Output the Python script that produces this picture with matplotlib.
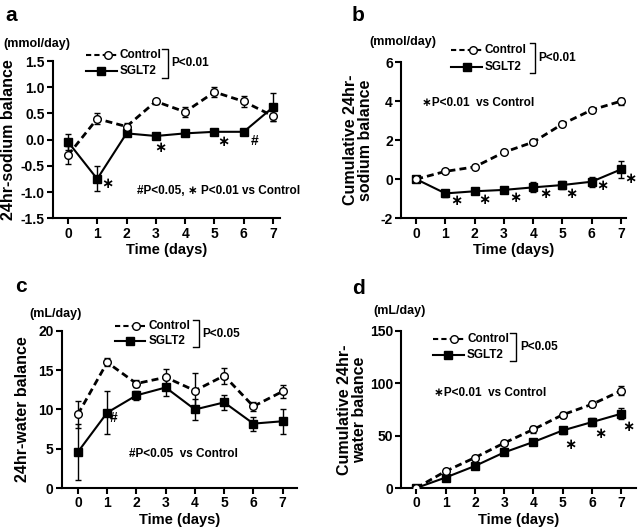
import numpy as np
import matplotlib.pyplot as plt
from matplotlib.lines import Line2D

plt.rcParams['font.family'] = ['Liberation Sans', 'DejaVu Sans']
plt.rcParams['font.weight'] = 'bold'

days = np.arange(8)

# a: 24hr sodium balance (mmol/day)
na_ctrl = [-0.30, 0.40, 0.25, 0.73, 0.53, 0.91, 0.73, 0.45]
na_ctrl_err = [0.17, 0.10, 0.07, 0.05, 0.09, 0.10, 0.10, 0.10]
na_sglt = [-0.04, -0.75, 0.12, 0.07, 0.12, 0.15, 0.15, 0.62]
na_sglt_err = [0.15, 0.24, 0.05, 0.03, 0.03, 0.03, 0.05, 0.27]

# b: cumulative sodium balance
cna_ctrl = [0.0, 0.40, 0.63, 1.38, 1.90, 2.83, 3.55, 4.00]
cna_ctrl_err = [0.05, 0.10, 0.10, 0.10, 0.12, 0.10, 0.12, 0.18]
cna_sglt = [0.0, -0.73, -0.62, -0.55, -0.42, -0.30, -0.13, 0.50]
cna_sglt_err = [0.05, 0.20, 0.15, 0.15, 0.25, 0.20, 0.25, 0.45]

# c: 24hr water balance (mL/day)
w_ctrl = [9.4, 16.0, 13.3, 14.1, 12.4, 14.3, 10.4, 12.3]
w_ctrl_err = [1.7, 0.5, 0.4, 1.0, 2.3, 1.0, 0.6, 0.8]
w_sglt = [4.6, 9.6, 11.8, 12.8, 10.0, 10.9, 8.2, 8.5]
w_sglt_err = [3.6, 2.7, 0.6, 1.1, 1.3, 1.0, 0.9, 1.6]

# d: cumulative water balance
cw_ctrl = [0, 16, 29, 43, 56, 70, 80, 93]
cw_ctrl_err = [1, 2, 2, 2, 3, 3, 3, 4]
cw_sglt = [0, 10, 21, 34, 44, 55, 63, 71]
cw_sglt_err = [1, 2, 2, 2, 2, 3, 4, 5]

STAR = '\u2217'

fig = plt.figure(figsize=(6.38, 5.27), dpi=100)


def panel(rect, ctrl, ctrl_err, sglt, sglt_err, ylim, yticks, yfmt, ylabel,
          unit, letter, pval, leg, xlim, marks, note):
    ax = fig.add_axes(rect)
    ax.errorbar(days, sglt, yerr=sglt_err, color='black', lw=1.5, marker='s',
                ms=6, mfc='black', capsize=2.5, elinewidth=1, capthick=1, zorder=3)
    ax.errorbar(days, ctrl, yerr=ctrl_err, color='black', lw=2, ls=(0, (2.5, 1.5)),
                marker='o', ms=5.5, mfc='white', mec='black', mew=1,
                capsize=2.5, elinewidth=1, capthick=1, zorder=4)
    ax.set_xlim(*xlim)
    ax.set_ylim(*ylim)
    ax.set_xticks(days)
    ax.set_yticks(yticks)
    ax.set_yticklabels([yfmt.format(v) for v in yticks])
    for s in ['top', 'right']:
        ax.spines[s].set_visible(False)
    for s in ['left', 'bottom']:
        ax.spines[s].set_linewidth(1.5)
    ax.tick_params(width=1.5, length=4, labelsize=10, pad=2)
    for t in ax.get_xticklabels() + ax.get_yticklabels():
        t.set_fontweight('bold')
    ax.set_xlabel('Time (days)', fontsize=10.5, fontweight='bold', labelpad=2)
    ax.set_ylabel(ylabel, fontsize=11.5, fontweight='bold', labelpad=leg['lp'],
                  linespacing=1.0)
    ax.text(leg['ux'], leg['uy'], unit, transform=ax.transAxes, fontsize=9,
            fontweight='bold', va='center')
    ax.text(leg['lx'], leg['ly'], letter, transform=ax.transAxes, fontsize=15,
            fontweight='bold', va='center')

    # legend drawn by hand
    x0, x1, tx = leg['x0'], leg['x1'], leg['tx']
    y_c, y_s = leg['yc'], leg['ys']
    ax.add_line(Line2D([x0, x1], [y_c, y_c], transform=ax.transAxes, color='black',
                       lw=1.5, ls=(0, (2.5, 1.5)), clip_on=False))
    ax.add_line(Line2D([x0 + 0.7 * (x1 - x0)], [y_c], transform=ax.transAxes,
                       marker='o', ms=5.5, mfc='white', mec='black', mew=1,
                       clip_on=False))
    ax.add_line(Line2D([x0, x1], [y_s, y_s], transform=ax.transAxes, color='black',
                       lw=1.5, clip_on=False))
    ax.add_line(Line2D([x0 + 0.5 * (x1 - x0)], [y_s], transform=ax.transAxes,
                       marker='s', ms=6, mfc='black', mec='black', clip_on=False))
    ax.text(tx, y_c, 'Control', transform=ax.transAxes, fontsize=8.5,
            fontweight='bold', va='center')
    ax.text(tx, y_s, 'SGLT2', transform=ax.transAxes, fontsize=8.5,
            fontweight='bold', va='center')
    bx = leg['bx']
    ax.add_line(Line2D([bx - 0.025, bx, bx, bx - 0.025],
                       [y_c + 0.04, y_c + 0.04, y_s - 0.04, y_s - 0.04],
                       transform=ax.transAxes, color='black', lw=1, clip_on=False))
    ax.text(bx + 0.015, (y_c + y_s) / 2, pval, transform=ax.transAxes,
            fontsize=8.5, fontweight='bold', va='center')

    for mx, my, s in marks:
        ax.text(mx, my, s, fontsize=10.5 if s == STAR else 10, fontweight='bold',
                ha='center', va='center')
    ax.text(note[0], note[1], note[2], fontsize=8.5, fontweight='bold',
            va='center')
    return ax


panel([0.083, 0.586, 0.356, 0.298], na_ctrl, na_ctrl_err, na_sglt, na_sglt_err,
      (-1.5, 1.5), [-1.5, -1.0, -0.5, 0.0, 0.5, 1.0, 1.5], '{:.1f}',
      '24hr-sodium balance', '(mmol/day)', 'a', 'P<0.01',
      dict(x0=0.145, x1=0.282, tx=0.295, yc=1.04, ys=0.935, bx=0.505, ux=-0.22,
           uy=1.11, lx=-0.21, ly=1.29, lp=3),
      (-0.51, 7.24),
      [(1.33, -0.85, STAR), (3.17, -0.16, STAR), (5.29, -0.05, STAR),
       (6.38, -0.03, '#')],
      (2.35, -0.99, '#P<0.05, ' + STAR + ' P<0.01 vs Control'))

panel([0.629, 0.586, 0.352, 0.296], cna_ctrl, cna_ctrl_err, cna_sglt, cna_sglt_err,
      (-2, 6), [-2, 0, 2, 4, 6], '{:d}',
      'Cumulative 24hr-\nsodium balance', '(mmol/day)', 'b', 'P<0.01',
      dict(x0=0.222, x1=0.36, tx=0.37, yc=1.08, ys=0.97, bx=0.596, ux=-0.14,
           uy=1.13, lx=-0.22, ly=1.30, lp=6),
      (-0.51, 7.17),
      [(1.37, -1.1, STAR), (2.32, -1.05, STAR), (3.38, -0.95, STAR),
       (4.4, -0.78, STAR), (5.32, -0.78, STAR), (6.35, -0.35, STAR),
       (7.34, 0.02, STAR)],
      (0.2, 3.9, STAR + 'P<0.01  vs Control'))

panel([0.097, 0.074, 0.368, 0.298], w_ctrl, w_ctrl_err, w_sglt, w_sglt_err,
      (0, 20), [0, 5, 10, 15, 20], '{:d}',
      '24hr-water balance', '(mL/day)', 'c', 'P<0.05',
      dict(x0=0.226, x1=0.355, tx=0.37, yc=1.03, ys=0.935, bx=0.583, ux=-0.14,
           uy=1.11, lx=-0.20, ly=1.28, lp=6),
      (-0.55, 7.48),
      [(1.23, 8.9, '#')],
      (1.75, 4.3, '#P<0.05  vs Control'))

panel([0.629, 0.074, 0.368, 0.298], cw_ctrl, cw_ctrl_err, cw_sglt, cw_sglt_err,
      (0, 150), [0, 50, 100, 150], '{:d}',
      'Cumulative 24hr-\nwater balance', '(mL/day)', 'd', 'P<0.05',
      dict(x0=0.136, x1=0.265, tx=0.28, yc=0.95, ys=0.85, bx=0.49, ux=-0.12,
           uy=1.13, lx=-0.21, ly=1.27, lp=2),
      (-0.51, 7.5),
      [(5.26, 41, STAR), (6.28, 51.5, STAR), (7.23, 58, STAR)],
      (0.6, 90.7, STAR + 'P<0.01  vs Control'))

fig.savefig('out.png', dpi=100)
